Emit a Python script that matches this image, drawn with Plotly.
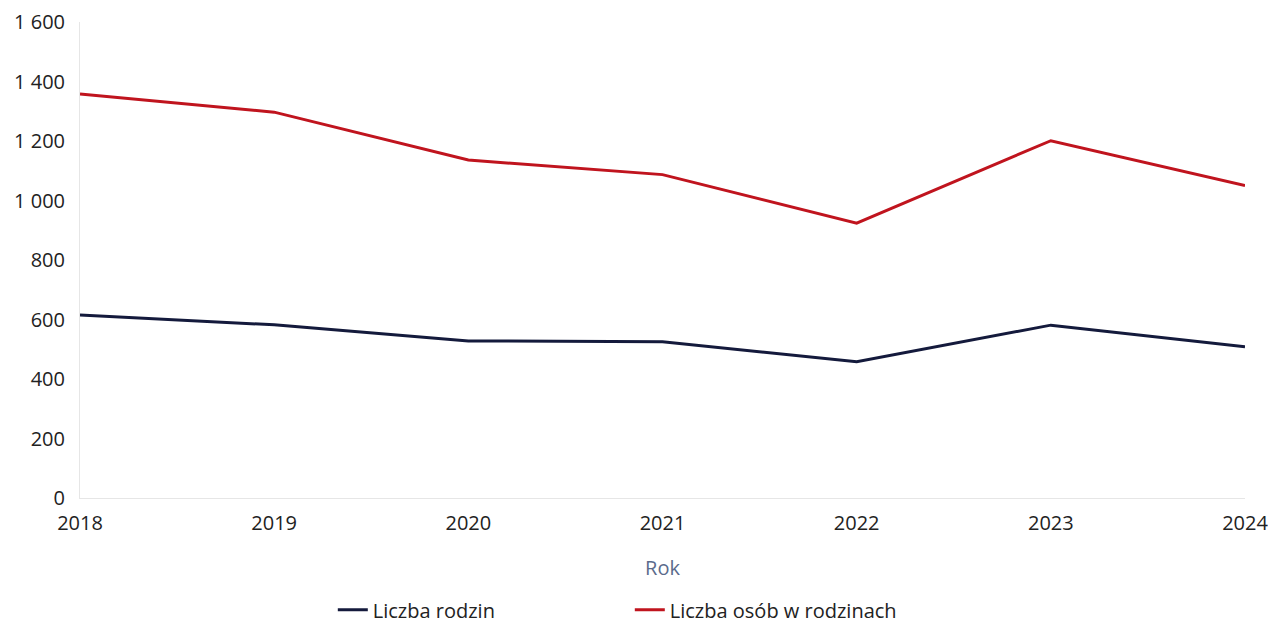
import plotly.graph_objects as go

years = [2018, 2019, 2020, 2021, 2022, 2023, 2024]
liczba_rodzin = [615, 582, 528, 525, 458, 581, 508]
liczba_osob = [1358, 1297, 1136, 1087, 924, 1201, 1050]
y_tick_vals = [0, 200, 400, 600, 800, 1000, 1200, 1400, 1600]
y_tick_text = ["0", "200", "400", "600", "800", "1 000", "1 200", "1 400", "1 600"]

fig = go.Figure()
fig.add_trace(go.Scatter(x=years, y=liczba_rodzin, mode="lines", name="Liczba rodzin",
                         line=dict(color="#141a3c", width=3)))
fig.add_trace(go.Scatter(x=years, y=liczba_osob, mode="lines", name="Liczba osób w rodzinach",
                         line=dict(color="#c0141e", width=3)))

fig.update_layout(
    width=1268, height=623,
    paper_bgcolor="white", plot_bgcolor="white",
    margin=dict(l=80, r=23, t=22, b=125, autoexpand=False),
    font=dict(family="Open Sans", size=20, color="#222222"),
    showlegend=True,
    legend=dict(orientation="h", x=0.217, xanchor="left", y=-0.194, yanchor="top",
                font=dict(size=20, color="#222222"),
                entrywidth=252, entrywidthmode="pixels"),
    xaxis=dict(range=[2018, 2024], tickvals=years, ticktext=[str(y) for y in years],
               showgrid=False, zeroline=False, showline=True, linecolor="#e6e6e6", linewidth=1,
               ticks="", ticklabelstandoff=7, ticklabeloverflow="allow",
               title=dict(text="Rok", font=dict(size=20, color="#5b6b8c"), standoff=25)),
    yaxis=dict(range=[0, 1600], tickvals=y_tick_vals, ticktext=y_tick_text,
               showgrid=False, zeroline=False, showline=True, linecolor="#e6e6e6", linewidth=1,
               ticks="", ticklabelstandoff=10, ticklabeloverflow="allow"),
)

fig.write_html(
    "out.html",
    config={"displayModeBar": False},
    post_script="document.body.style.margin='0';document.body.style.overflow='hidden';",
)
